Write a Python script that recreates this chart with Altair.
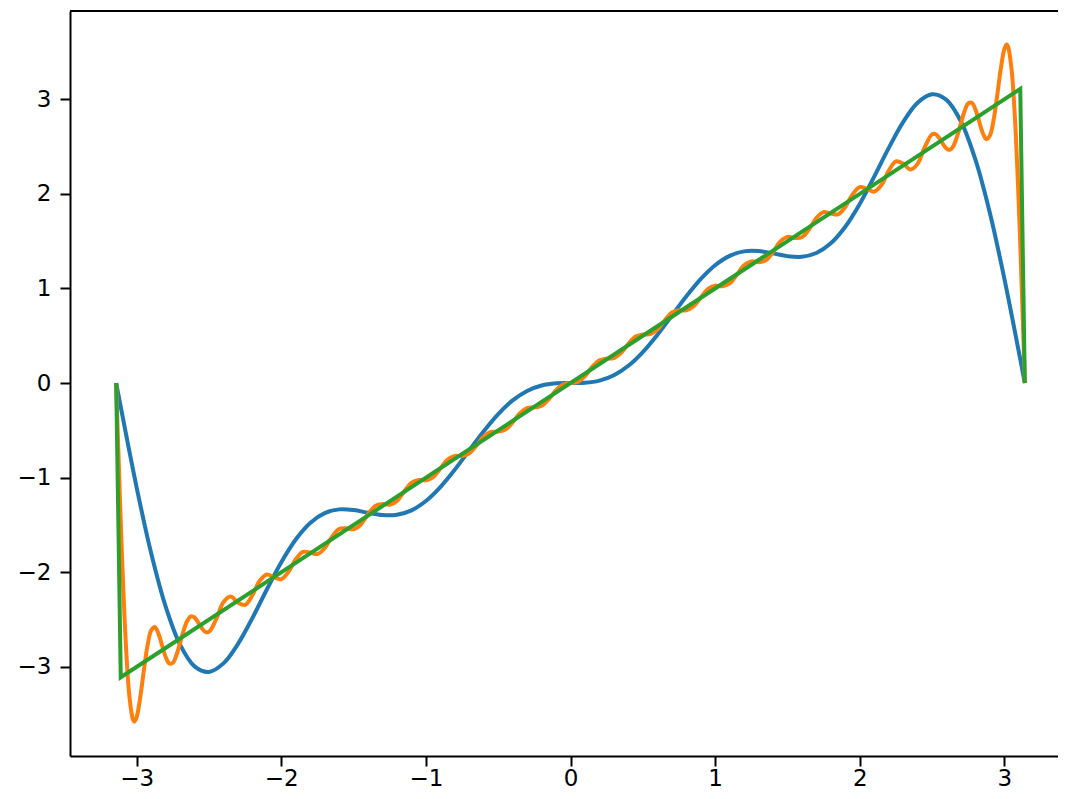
import altair as alt
import pandas as pd

# Blue curve (smooth, few harmonics)
blue_x = [-3.1416, -3.1, -3.0, -2.9, -2.8, -2.7, -2.6, -2.5, -2.4, -2.3, -2.2, -2.1, -2.0,
          -1.9, -1.8, -1.7, -1.6, -1.5, -1.4, -1.3, -1.2, -1.1, -1.0, -0.9, -0.8, -0.7,
          -0.6, -0.5, -0.4, -0.3, -0.2, -0.1, 0.0, 0.1, 0.2, 0.3, 0.4, 0.5, 0.6, 0.7, 0.8,
          0.9, 1.0, 1.1, 1.2, 1.3, 1.4, 1.5, 1.6, 1.7, 1.8, 1.9, 2.0, 2.1, 2.2, 2.3, 2.4,
          2.5, 2.6, 2.7, 2.8, 2.9, 3.0, 3.1, 3.1416]
blue_y = [0.0, -0.332, -1.105, -1.797, -2.361, -2.765, -2.994, -3.053, -2.963, -2.759, -2.484,
          -2.182, -1.894, -1.653, -1.478, -1.375, -1.335, -1.342, -1.371, -1.395, -1.392,
          -1.345, -1.246, -1.099, -0.915, -0.711, -0.509, -0.328, -0.183, -0.083, -0.026,
          -0.003, 0.0, 0.003, 0.026, 0.083, 0.183, 0.328, 0.509, 0.711, 0.915, 1.099, 1.246,
          1.345, 1.392, 1.395, 1.371, 1.342, 1.335, 1.375, 1.478, 1.653, 1.894, 2.182, 2.484,
          2.759, 2.963, 3.053, 2.994, 2.765, 2.361, 1.797, 1.105, 0.332, 0.0]

# Orange curve (many harmonics, Gibbs ripples)
orange_x = [-3.1416, -3.125, -3.10, -3.075, -3.05, -3.025, -3.016, -3.00, -2.975, -2.95, -2.925,
            -2.90, -2.875, -2.85, -2.825, -2.80, -2.775, -2.75, -2.725, -2.70, -2.675, -2.65,
            -2.625, -2.60, -2.575, -2.55, -2.525, -2.50, -2.45, -2.40, -2.35, -2.30, -2.25,
            -2.20, -2.15, -2.10, -2.05, -2.00, -1.95, -1.90, -1.85, -1.80, -1.75, -1.70, -1.65,
            -1.60, -1.55, -1.50, -1.45, -1.40, -1.35, -1.30, -1.25, -1.20, -1.15, -1.10, -1.05,
            -1.00, -0.95, -0.90, -0.85, -0.80, -0.75, -0.70, -0.65, -0.60, -0.55, -0.50, -0.45,
            -0.40, -0.35, -0.30, -0.25, -0.20, -0.15, -0.10, -0.05, 0.0,
            0.05, 0.10, 0.15, 0.20, 0.25, 0.30, 0.35, 0.40, 0.45, 0.50, 0.55, 0.60, 0.65, 0.70,
            0.75, 0.80, 0.85, 0.90, 0.95, 1.00, 1.05, 1.10, 1.15, 1.20, 1.25, 1.30, 1.35, 1.40,
            1.45, 1.50, 1.55, 1.60, 1.65, 1.70, 1.75, 1.80, 1.85, 1.90, 1.95, 2.00, 2.05, 2.10,
            2.15, 2.20, 2.25, 2.30, 2.35, 2.40, 2.45, 2.50, 2.525, 2.55, 2.575, 2.60, 2.625,
            2.65, 2.675, 2.70, 2.725, 2.75, 2.775, 2.80, 2.825, 2.85, 2.875, 2.90, 2.925, 2.95,
            2.975, 3.00, 3.016, 3.025, 3.05, 3.075, 3.10, 3.125, 3.1416]
orange_y = [0.0, -0.789, -1.882, -2.750, -3.315, -3.560, -3.579, -3.531, -3.319, -3.033, -2.776,
            -2.616, -2.578, -2.646, -2.770, -2.892, -2.963, -2.956, -2.875, -2.748, -2.615,
            -2.513, -2.467, -2.478, -2.529, -2.590, -2.630, -2.629, -2.496, -2.317, -2.257,
            -2.320, -2.344, -2.243, -2.093, -2.024, -2.053, -2.072, -1.994, -1.862, -1.784,
            -1.792, -1.807, -1.745, -1.626, -1.542, -1.534, -1.545, -1.495, -1.386, -1.298,
            -1.278, -1.286, -1.245, -1.145, -1.054, -1.024, -1.028, -0.994, -0.903, -0.809,
            -0.770, -0.770, -0.743, -0.659, -0.564, -0.517, -0.513, -0.492, -0.415, -0.319,
            -0.264, -0.257, -0.240, -0.171, -0.074, -0.012, 0.0,
            0.012, 0.074, 0.171, 0.240, 0.257, 0.264, 0.319, 0.415, 0.492, 0.513, 0.517, 0.564,
            0.659, 0.743, 0.770, 0.770, 0.809, 0.903, 0.994, 1.028, 1.024, 1.054, 1.145, 1.245,
            1.286, 1.278, 1.298, 1.386, 1.495, 1.545, 1.534, 1.542, 1.626, 1.745, 1.807, 1.792,
            1.784, 1.862, 1.994, 2.072, 2.053, 2.024, 2.093, 2.243, 2.344, 2.320, 2.257, 2.317,
            2.496, 2.629, 2.630, 2.590, 2.529, 2.478, 2.467, 2.513, 2.615, 2.748, 2.875, 2.956,
            2.963, 2.892, 2.770, 2.646, 2.578, 2.616, 2.776, 3.033, 3.319, 3.531, 3.579, 3.560,
            3.315, 2.750, 1.882, 0.789, 0.0]

# Green curve (target sawtooth)
green_x = [-3.1416, -3.11, 3.11, 3.1416]
green_y = [0.0, -3.11, 3.11, 0.0]

tick_values = [-3, -2, -1, 0, 1, 2, 3]

W, H = 988, 745
FONT = "DejaVu Sans"

x_scale = alt.Scale(domain=[-3.461, 3.371], nice=False, zero=False)
y_scale = alt.Scale(domain=[-3.942, 3.933], nice=False, zero=False)

x_axis = alt.Axis(values=tick_values, title=None, grid=False, format="d",
                  domainColor="black", domainWidth=2, tickColor="black", tickWidth=2,
                  tickSize=10, labelFont=FONT, labelFontSize=23, labelColor="black",
                  labelPadding=1)
y_axis = alt.Axis(values=tick_values, title=None, grid=False, format="d",
                  domainColor="black", domainWidth=2, tickColor="black", tickWidth=2,
                  tickSize=10, labelFont=FONT, labelFontSize=23, labelColor="black",
                  labelPadding=9)


def curve(xv, yv, color, interp):
    df = pd.DataFrame({"x": xv, "y": yv})
    return alt.Chart(df).mark_line(color=color, strokeWidth=4,
                                   interpolate=interp, clip=True).encode(
        x=alt.X("x:Q", scale=x_scale, axis=x_axis),
        y=alt.Y("y:Q", scale=y_scale, axis=y_axis),
    )


blue = curve(blue_x, blue_y, "#1f77b4", "catmull-rom")
orange = curve(orange_x, orange_y, "#ff7f0e", "catmull-rom")
green = curve(green_x, green_y, "#2ca02c", "linear")

top_spine = alt.Chart(pd.DataFrame({"k": [0]})).mark_rule(
    color="black", strokeWidth=2).encode(
    x=alt.value(0), x2=alt.value(W), y=alt.value(0))

chart = alt.layer(blue, orange, green, top_spine).properties(
    width=W, height=H,
    padding={"left": 62, "top": 3, "right": 0, "bottom": 35},
    autosize=alt.AutoSizeParams(type="none"),
    background="white",
).configure_view(strokeWidth=0)

chart.save("out.html", embed_options={"renderer": "svg", "actions": False})
